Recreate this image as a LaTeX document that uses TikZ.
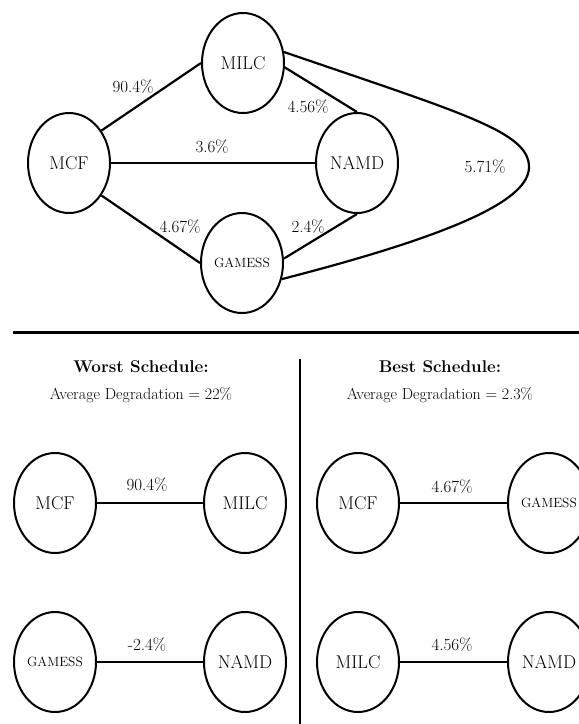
\documentclass[tikz,border=0pt]{standalone}
\usepackage{fontspec}
\usetikzlibrary{shapes.geometric}
\tikzset{
  app/.style={draw, ellipse, line width=2pt, inner sep=0pt, minimum width=82pt, minimum height=100pt, font=\fontsize{18.5}{20}\selectfont},
  appsmall/.style={app, font=\fontsize{13.4}{15}\selectfont},
  edge/.style={line width=2.2pt},
  lab/.style={font=\fontsize{17}{19}\selectfont, inner sep=0pt},
  head/.style={font=\fontsize{17}{19}\selectfont\bfseries, inner sep=0pt},
  sub/.style={font=\fontsize{16}{18}\selectfont, inner sep=0pt},
  rule/.style={line width=3pt}
}
\begin{document}
\begin{tikzpicture}[x=1pt,y=-1pt]
\useasboundingbox (0,0) rectangle (579,724);
\clip (0,0) rectangle (579,724);
\fill[white] (0,0) rectangle (579,724);
% top graph
\node[app] (milc) at (243,63) {MILC};
\node[app] (mcf) at (69,163) {MCF};
\node[app] (namd) at (357,163) {NAMD};
\node[appsmall] (gam) at (242,263) {GAMESS};
\draw[edge] (mcf.45) -- (milc.west);
\draw[edge] (mcf.east) -- (namd.west);
\draw[edge] (mcf.-45) -- (gam.west);
\draw[edge] (milc.-6) -- (namd.north);
\draw[edge] (gam.6) -- (namd.south);
\coordinate (tip) at (529,167);
\draw[edge] (milc.15) .. controls (465,114) and (529,132) .. (tip) .. controls (529,198) and (465,232) .. (gam.-22);
\node[lab] (l1) at (133,87) {90.4\%};
\node[lab] (l2) at (212,147) {3.6\%};
\node[lab] (l3) at (308,107) {4.56\%};
\node[lab] (l4) at (180,227) {4.67\%};
\node[lab] (l5) at (308,227) {2.4\%};
\node[lab] (l6) at (485,167) {5.71\%};
% dividers
\coordinate (h1) at (13,332);
\coordinate (h2) at (579,332);
\draw[rule] (h1) -- (h2);
\coordinate (v1) at (300,359);
\coordinate (v2) at (300,724);
\draw[rule, line width=2.6pt] (v1) -- (v2);
% headers
\node[head] (wh) at (141,367) {Worst Schedule:};
\node[sub] (ws) at (141,395) {Average Degradation = 22\%};
\node[head] (bh) at (440,367) {Best Schedule:};
\node[sub] (bs) at (440,395) {Average Degradation = 2.3\%};
% worst schedule
\node[app] (w1) at (55,503) {MCF};
\node[app] (w2) at (245,503) {MILC};
\draw[edge] (w1) -- (w2);
\node[lab] (wl1) at (147,485) {90.4\%};
\node[appsmall] (w3) at (55,662) {GAMESS};
\node[app] (w4) at (245,662) {NAMD};
\draw[edge] (w3) -- (w4);
\node[lab] (wl2) at (147,645) {-2.4\%};
% best schedule
\node[app] (b1) at (358,503) {MCF};
\node[appsmall] (b2) at (549,503) {GAMESS};
\draw[edge] (b1) -- (b2);
\node[lab] (bl1) at (452,487) {4.67\%};
\node[app] (b3) at (358,662) {MILC};
\node[app] (b4) at (549,662) {NAMD};
\draw[edge] (b3) -- (b4);
\node[lab] (bl2) at (452,645) {4.56\%};
\end{tikzpicture}
\end{document}
